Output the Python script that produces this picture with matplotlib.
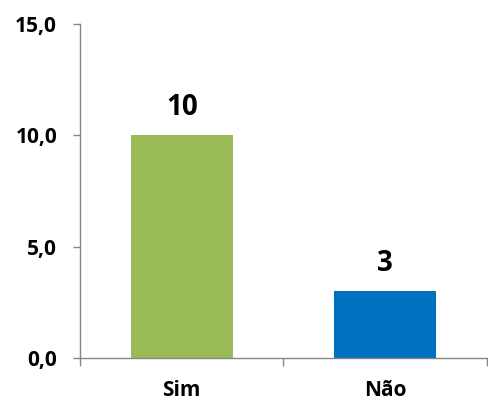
import matplotlib
matplotlib.use("Agg")
import matplotlib.pyplot as plt

categories = ["Sim", "Não"]
values = [10, 3]
value_labels = ["10", "3"]
colors = ["#9BBB59", "#0070C0"]
yticks = [0, 5, 10, 15]
ytick_labels = ["0,0", "5,0", "10,0", "15,0"]

plt.rcParams["font.family"] = ["Open Sans", "DejaVu Sans"]

fig = plt.figure(figsize=(4.88, 4.03), dpi=100)
ax = fig.add_axes([0.1639, 0.1117, 0.834, 0.8287])

x = range(len(categories))
bars = ax.bar(x, values, width=0.5, color=colors)
for xi, v, lab in zip(x, values, value_labels):
    ax.annotate(lab, (xi, v), xytext=(0, 14.4), textcoords="offset points",
                ha="center", va="baseline", fontsize=20, fontweight="bold")

ax.set_xlim(-0.5, 1.5)
ax.set_ylim(0, 15)
ax.set_yticks(yticks)
ax.set_yticklabels(ytick_labels, fontsize=15, fontweight="bold")
ax.set_xticks([0, 1])
ax.set_xticklabels(categories, fontsize=15, fontweight="bold")
ax.set_xticks([-0.5, 0.5, 1.5], minor=True)
ax.tick_params(axis="x", which="major", length=0, pad=15.5)
ax.tick_params(axis="x", which="minor", length=5.5, color="#868686", width=1)
ax.tick_params(axis="y", length=5, color="#868686", width=1, pad=11.5)

for s in ["top", "right"]:
    ax.spines[s].set_visible(False)
for s in ["left", "bottom"]:
    ax.spines[s].set_color("#868686")
    ax.spines[s].set_linewidth(1)

fig.savefig("out.png", dpi=100)
